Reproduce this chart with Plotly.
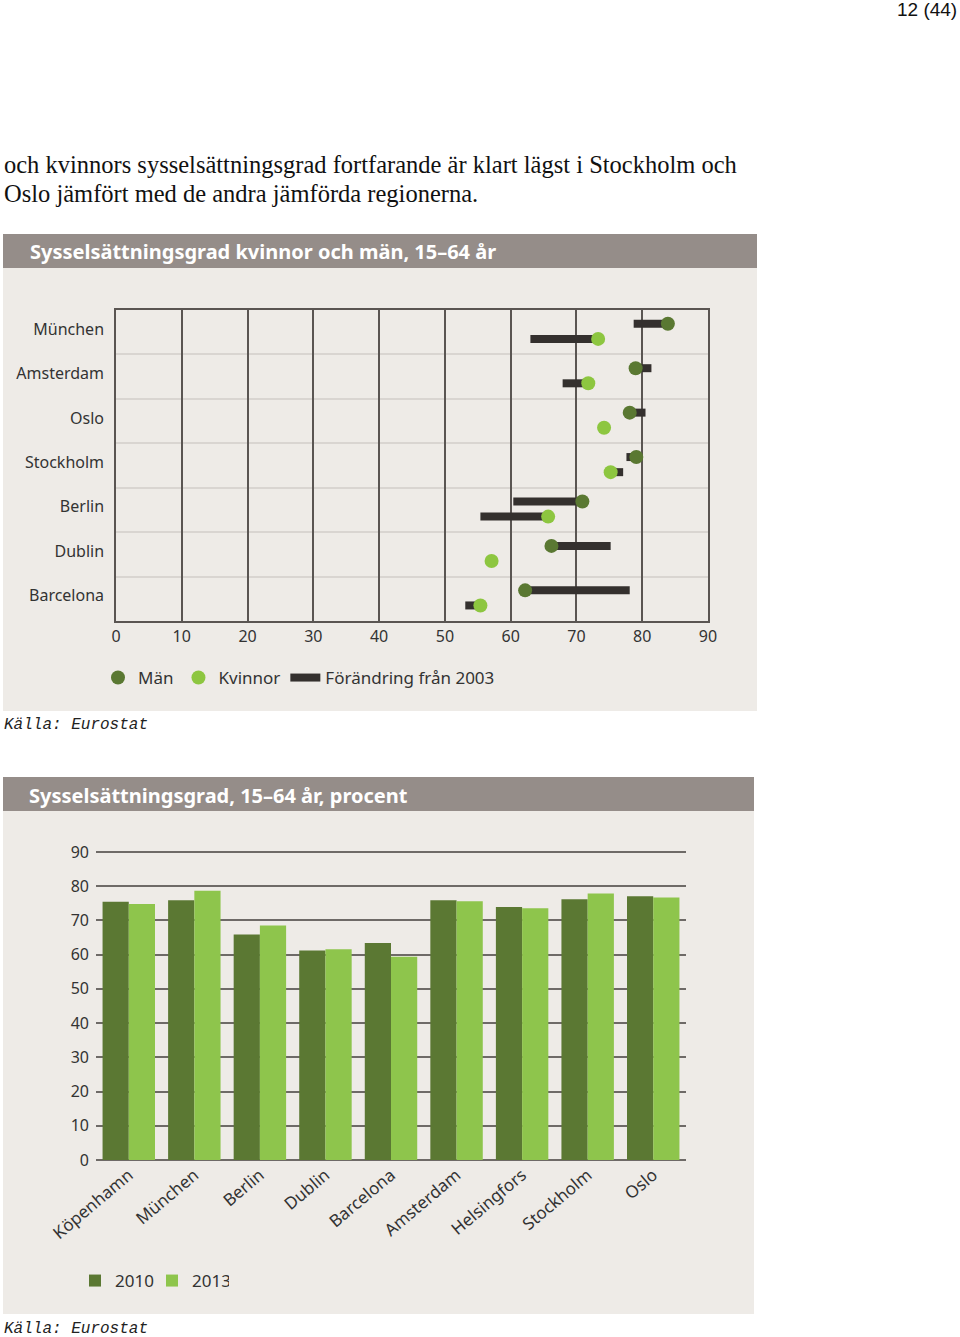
import plotly.graph_objects as go

W, H = 960, 1337


def px(x):
    return x / W


def py(y):
    return 1 - y / H


# ---------------- data: top chart ----------------
cities_top = ["München", "Amsterdam", "Oslo", "Stockholm", "Berlin", "Dublin", "Barcelona"]
man_2013 = [83.9, 79.0, 78.1, 79.1, 70.9, 66.2, 62.2]
man_2003 = [78.7, 81.4, 80.5, 77.6, 60.4, 75.2, 78.1]
kv_2013 = [73.3, 71.8, 74.2, 75.2, 65.7, 57.1, 55.4]
kv_2003 = [63.0, 67.9, 74.2, 77.1, 55.4, 57.1, 53.1]
x_ticks_top = [0, 10, 20, 30, 40, 50, 60, 70, 80, 90]

# ---------------- data: bottom chart ----------------
cities_bot = ["Köpenhamn", "München", "Berlin", "Dublin", "Barcelona",
              "Amsterdam", "Helsingfors", "Stockholm", "Oslo"]
v2010 = [75.5, 75.9, 65.9, 61.2, 63.4, 75.9, 73.9, 76.2, 77.1]
v2013 = [74.8, 78.7, 68.5, 61.6, 59.4, 75.6, 73.6, 77.9, 76.7]
y_ticks_bot = [0, 10, 20, 30, 40, 50, 60, 70, 80, 90]

C_MAN = "#5a7832"
C_KV = "#8dc640"
C_BAR = "#34302e"
C_2010 = "#5b7833"
C_2013 = "#8ec54c"
PANEL = "#eeebe7"
TITLEBAR = "#958d89"
TXT = "#333333"
FONT = "Noto Sans"

OFF_MAN, OFF_KV = -0.19, 0.15
idx = list(range(len(cities_top)))

fig = go.Figure()

# change bars
bx, by = [], []
for i in idx:
    for a, b, off in ((man_2003[i], man_2013[i], OFF_MAN), (kv_2003[i], kv_2013[i], OFF_KV)):
        bx += [a, b, None]
        by += [i + off, i + off, None]
fig.add_trace(go.Scatter(x=bx, y=by, mode="lines", name="Förändring från 2003",
                         line=dict(color=C_BAR, width=8), legend="legend",
                         legendrank=3, xaxis="x", yaxis="y", hoverinfo="skip"))
fig.add_trace(go.Scatter(x=man_2013, y=[i + OFF_MAN for i in idx], mode="markers", name="Män",
                         marker=dict(color=C_MAN, size=14), legend="legend", legendrank=1,
                         xaxis="x", yaxis="y"))
fig.add_trace(go.Scatter(x=kv_2013, y=[i + OFF_KV for i in idx], mode="markers", name="Kvinnor",
                         marker=dict(color=C_KV, size=14), legend="legend", legendrank=2,
                         xaxis="x", yaxis="y"))

# bottom bars
fig.add_trace(go.Bar(x=cities_bot, y=v2010, name="2010", marker=dict(color=C_2010, line_width=0),
                     xaxis="x2", yaxis="y2", legend="legend2"))
fig.add_trace(go.Bar(x=cities_bot, y=v2013, name="2013", marker=dict(color=C_2013, line_width=0),
                     xaxis="x2", yaxis="y2", legend="legend2"))

shapes = [
    dict(type="rect", xref="paper", yref="paper", x0=px(3), x1=px(757), y0=py(711), y1=py(234),
         fillcolor=PANEL, line_width=0, layer="below"),
    dict(type="rect", xref="paper", yref="paper", x0=px(3), x1=px(757), y0=py(268), y1=py(234),
         fillcolor=TITLEBAR, line_width=0, layer="below"),
    dict(type="rect", xref="paper", yref="paper", x0=px(3), x1=px(754), y0=py(1314), y1=py(777),
         fillcolor=PANEL, line_width=0, layer="below"),
    dict(type="rect", xref="paper", yref="paper", x0=px(3), x1=px(754), y0=py(811), y1=py(777),
         fillcolor=TITLEBAR, line_width=0, layer="below"),
]

annotations = [
    dict(text="12 (44)", x=px(959), y=py(10), xref="paper", yref="paper", xanchor="right",
         yanchor="middle", showarrow=False, font=dict(family="Liberation Sans", size=19, color="#111")),
    dict(text="och kvinnors sysselsättningsgrad fortfarande är klart lägst i Stockholm och",
         x=px(2), y=py(164), xref="paper", yref="paper", xanchor="left", yanchor="middle",
         showarrow=False, font=dict(family="Liberation Serif", size=24.5, color="#111")),
    dict(text="Oslo jämfört med de andra jämförda regionerna.",
         x=px(2), y=py(193), xref="paper", yref="paper", xanchor="left", yanchor="middle",
         showarrow=False, font=dict(family="Liberation Serif", size=24.5, color="#111")),
    dict(text="<b>Sysselsättningsgrad kvinnor och män, 15–64 år</b>", x=px(28), y=py(251),
         xref="paper", yref="paper", xanchor="left", yanchor="middle", showarrow=False,
         font=dict(family=FONT, size=20, color="white")),
    dict(text="<b>Sysselsättningsgrad, 15–64 år, procent</b>", x=px(27), y=py(795),
         xref="paper", yref="paper", xanchor="left", yanchor="middle", showarrow=False,
         font=dict(family=FONT, size=20, color="white")),
    dict(text="<i>Källa: Eurostat</i>", x=px(2), y=py(725), xref="paper", yref="paper",
         xanchor="left", yanchor="middle", showarrow=False,
         font=dict(family="Liberation Mono", size=16, color="#222")),
    dict(text="<i>Källa: Eurostat</i>", x=px(2), y=py(1329), xref="paper", yref="paper",
         xanchor="left", yanchor="middle", showarrow=False,
         font=dict(family="Liberation Mono", size=16, color="#222")),
]

fig.update_layout(
    width=W, height=H, margin=dict(l=0, r=0, t=0, b=0, autoexpand=False),
    paper_bgcolor="white", plot_bgcolor="rgba(0,0,0,0)",
    font=dict(family=FONT, color=TXT),
    shapes=shapes, annotations=annotations,
    barmode="group", bargap=0.2, bargroupgap=0,
    xaxis=dict(domain=[px(116), px(708)], range=[0, 90], tickvals=x_ticks_top,
               showgrid=True, gridcolor="#5a5552", gridwidth=1.5, zeroline=False,
               showline=True, mirror=True, linecolor="#5a5552", linewidth=1.5,
               ticks="", tickfont=dict(size=16, color=TXT), anchor="y", automargin=False),
    yaxis=dict(domain=[py(621), py(310)], range=[6.5, -0.5],
               tickvals=[i - 0.07 for i in idx], ticktext=cities_top,
               showgrid=False, zeroline=False, showline=True, mirror=True,
               linecolor="#5a5552", linewidth=1.5, ticks="", automargin=False,
               ticklabelstandoff=7, tickfont=dict(size=16, color=TXT), anchor="x",
               minor=dict(tickvals=[i + 0.5 for i in idx[:-1]], showgrid=True,
                          gridcolor="#d9d5d1", gridwidth=1.5, ticks="")),
    xaxis2=dict(domain=[px(96), px(686)], anchor="y2", tickangle=-40, ticks="",
                showgrid=False, zeroline=False, showline=False, automargin=False,
                tickfont=dict(size=17, color=TXT)),
    yaxis2=dict(domain=[py(1161), py(851)], range=[-0.3, 90.3], tickvals=y_ticks_bot,
                showgrid=True, gridcolor="#6e6a67", gridwidth=2, zeroline=False,
                ticks="", ticklabelstandoff=6, tickfont=dict(size=16, color=TXT),
                anchor="x2", automargin=False),
    legend=dict(orientation="h", x=px(98), y=py(678), xanchor="left", yanchor="middle",
                bgcolor="rgba(0,0,0,0)", font=dict(size=17, color=TXT), traceorder="normal",
                itemwidth=30),
    legend2=dict(orientation="h", x=px(75), y=py(1281), xanchor="left", yanchor="middle",
                 bgcolor="rgba(0,0,0,0)", font=dict(size=17, color=TXT), itemwidth=30,
                 entrywidth=32),
)

fig.write_html(
    "out.html",
    config={"displayModeBar": False},
    post_script="document.body.style.margin='0';document.body.style.overflow='hidden';",
)
